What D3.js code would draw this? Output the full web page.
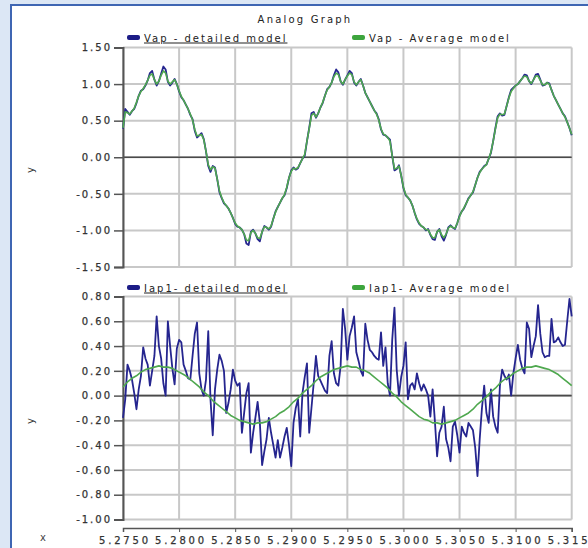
<!DOCTYPE html>
<html lang="en">
<head>
  <meta charset="UTF-8" />
  <title>Analog Graph</title>
  <script src="https://cdn.jsdelivr.net/npm/d3@7"></script>
  <style>
    html, body { margin: 0; padding: 0; background: #dce7f5; }
    svg { display: block; }
    text { font-family: "DejaVu Sans", Verdana, sans-serif; }
  </style>
</head>
<body>
  <script>
    // ----------------------------
    // Data
    // ----------------------------
    const xStart = 5.2750;
    const fineStep = 0.0002;   // sample spacing of the detailed traces
    const coarseStep = 0.0004; // sample spacing of the smooth Iap1 average

    const xTicks = [5.2750, 5.2800, 5.2850, 5.2900, 5.2950, 5.3000, 5.3050, 5.3100, 5.3150];
    const vapTicks = [-1.5, -1.0, -0.5, 0.0, 0.5, 1.0, 1.5];
    const iapTicks = [-1.0, -0.8, -0.6, -0.4, -0.2, 0.0, 0.2, 0.4, 0.6, 0.8];

    const vapNames = ["Vap - detailed model", "Vap - Average model"];
    const iapNames = ["Iap1- detailed model", "Iap1- Average model"];

    const vapDetailed = [
      0.39, 0.66, 0.62, 0.58, 0.63, 0.66, 0.74, 0.84, 0.91, 0.93,
      0.98, 1.05, 1.15, 1.18, 1.06, 0.98, 1.04, 1.14, 1.24, 1.20,
      1.03, 0.98, 1.02, 1.07, 1.00, 0.90, 0.82, 0.78, 0.72, 0.66,
      0.58, 0.52, 0.36, 0.27, 0.30, 0.33, 0.25, 0.08, -0.12, -0.20,
      -0.12, -0.14, -0.30, -0.48, -0.56, -0.63, -0.66, -0.70, -0.76, -0.83,
      -0.91, -0.95, -0.96, -0.99, -1.05, -1.18, -1.20, -1.02, -0.99, -1.04,
      -1.12, -1.15, -1.02, -0.94, -0.96, -0.99, -0.95, -0.84, -0.74, -0.68,
      -0.62, -0.56, -0.52, -0.42, -0.28, -0.18, -0.14, -0.17, -0.15, -0.08,
      -0.02, 0.02, 0.22, 0.40, 0.60, 0.62, 0.54, 0.60, 0.68, 0.74,
      0.84, 0.93, 0.96, 1.02, 1.12, 1.20, 1.16, 1.04, 0.99, 1.06,
      1.12, 1.18, 1.15, 1.02, 0.98, 1.03, 1.07, 0.98, 0.88, 0.82,
      0.76, 0.70, 0.64, 0.60, 0.52, 0.38, 0.31, 0.30, 0.27, 0.24,
      0.02, -0.18, -0.16, -0.11, -0.25, -0.42, -0.52, -0.55, -0.59, -0.66,
      -0.76, -0.85, -0.91, -0.94, -0.96, -1.00, -0.98, -1.06, -1.12, -1.13,
      -1.02, -0.98, -1.08, -1.14, -1.06, -0.96, -0.93, -0.96, -0.98, -0.90,
      -0.80, -0.74, -0.70, -0.63, -0.56, -0.52, -0.48, -0.38, -0.28, -0.20,
      -0.16, -0.12, -0.10, -0.02, 0.06, 0.22, 0.40, 0.56, 0.60, 0.57,
      0.58, 0.70, 0.82, 0.92, 0.95, 0.98, 1.00, 1.04, 1.08, 1.13,
      1.12, 1.04, 1.00, 1.06, 1.13, 1.14, 1.06, 0.98, 0.99, 1.02,
      1.01, 0.92, 0.84, 0.78, 0.72, 0.66, 0.60, 0.56, 0.48, 0.40,
      0.30
    ];

    const vapAverage = [
      0.40, 0.62, 0.61, 0.59, 0.63, 0.67, 0.75, 0.84, 0.90, 0.94,
      0.99, 1.05, 1.12, 1.14, 1.06, 1.00, 1.04, 1.12, 1.18, 1.15,
      1.04, 1.00, 1.03, 1.06, 1.00, 0.91, 0.83, 0.78, 0.72, 0.66,
      0.59, 0.51, 0.38, 0.29, 0.30, 0.31, 0.24, 0.08, -0.10, -0.17,
      -0.13, -0.15, -0.30, -0.46, -0.55, -0.62, -0.66, -0.70, -0.76, -0.83,
      -0.90, -0.94, -0.96, -0.99, -1.05, -1.13, -1.14, -1.03, -1.00, -1.04,
      -1.10, -1.11, -1.02, -0.95, -0.96, -0.98, -0.94, -0.84, -0.75, -0.68,
      -0.62, -0.56, -0.51, -0.41, -0.28, -0.19, -0.15, -0.16, -0.14, -0.08,
      -0.02, 0.04, 0.22, 0.39, 0.57, 0.60, 0.55, 0.60, 0.68, 0.75,
      0.84, 0.92, 0.96, 1.02, 1.10, 1.15, 1.13, 1.04, 1.00, 1.06,
      1.11, 1.15, 1.13, 1.03, 0.99, 1.03, 1.06, 0.98, 0.88, 0.82,
      0.76, 0.70, 0.64, 0.59, 0.51, 0.39, 0.32, 0.30, 0.27, 0.22,
      0.02, -0.16, -0.15, -0.12, -0.25, -0.41, -0.51, -0.55, -0.59, -0.66,
      -0.76, -0.84, -0.90, -0.94, -0.96, -0.99, -0.99, -1.05, -1.10, -1.10,
      -1.02, -0.99, -1.06, -1.10, -1.05, -0.97, -0.94, -0.96, -0.97, -0.90,
      -0.81, -0.74, -0.69, -0.63, -0.57, -0.52, -0.47, -0.38, -0.28, -0.21,
      -0.16, -0.13, -0.10, -0.02, 0.07, 0.22, 0.39, 0.54, 0.59, 0.58,
      0.59, 0.70, 0.81, 0.90, 0.94, 0.98, 1.00, 1.04, 1.08, 1.11,
      1.10, 1.04, 1.01, 1.06, 1.11, 1.11, 1.05, 0.99, 0.99, 1.02,
      1.00, 0.92, 0.84, 0.78, 0.72, 0.66, 0.60, 0.55, 0.48, 0.40,
      0.31
    ];

    const iapDetailed = [
      -0.18, -0.03, 0.25, 0.20, 0.13, 0.02, -0.11, 0.05, 0.16, 0.39,
      0.30, 0.25, 0.08, 0.20, 0.32, 0.64, 0.40, 0.30, 0.10, 0.00,
      0.60, 0.40, 0.22, 0.09, 0.38, 0.45, 0.43, 0.25, 0.20, 0.14,
      0.13, 0.32, 0.50, 0.59, 0.18, 0.05, 0.00, 0.13, 0.52, -0.03,
      -0.32, 0.05, 0.21, 0.33, 0.28, 0.20, -0.14, -0.06, 0.05, 0.21,
      0.12, 0.08, 0.10, -0.30, -0.14, 0.02, 0.10, -0.46, -0.30, -0.18,
      -0.05, -0.22, -0.56, -0.45, -0.35, -0.18, -0.30, -0.40, -0.50, -0.36,
      -0.50, -0.42, -0.33, -0.26, -0.40, -0.57, -0.22, -0.10, -0.03, -0.33,
      0.02, 0.15, 0.26, -0.30, -0.10, 0.10, 0.32, 0.16, 0.12, 0.08,
      0.04, 0.02, 0.32, 0.44, 0.18, 0.10, 0.08, 0.24, 0.70, 0.54,
      0.29, 0.48, 0.55, 0.64, 0.35, 0.28, 0.20, 0.16, 0.58, 0.45,
      0.37, 0.35, 0.32, 0.30, 0.29, 0.51, 0.24, 0.39, 0.10, 0.00,
      0.45, 0.71, 0.21, 0.00, 0.15, 0.24, 0.43, -0.03, 0.08, 0.10,
      0.05, 0.18, 0.10, 0.04, 0.09, 0.05, 0.00, -0.17, 0.05, -0.20,
      -0.49, -0.30, -0.25, -0.09, -0.35, -0.42, -0.53, -0.25, -0.21, -0.32,
      -0.46, -0.25, -0.30, -0.33, -0.22, -0.25, -0.28, -0.42, -0.65, -0.35,
      -0.10, 0.08, -0.14, -0.22, 0.05, -0.17, -0.25, -0.30, 0.08, 0.21,
      0.16, 0.13, 0.17, 0.00, 0.18, 0.30, 0.41, 0.29, 0.22, 0.18,
      0.59, 0.54, 0.31, 0.40, 0.48, 0.73, 0.50, 0.35, 0.31, 0.32,
      0.32, 0.62, 0.43, 0.44, 0.47, 0.43, 0.40, 0.41, 0.60, 0.78,
      0.64
    ];

    const iapAverage = [
      0.07, 0.11, 0.14, 0.16, 0.19, 0.21, 0.22, 0.23, 0.24, 0.23,
      0.23, 0.22, 0.20, 0.18, 0.16, 0.13, 0.10, 0.07, 0.03, 0.00,
      -0.04, -0.07, -0.10, -0.13, -0.16, -0.18, -0.20, -0.21, -0.22, -0.23,
      -0.22, -0.22, -0.21, -0.19, -0.17, -0.14, -0.12, -0.09, -0.05, -0.02,
      0.02, 0.05, 0.08, 0.12, 0.15, 0.17, 0.19, 0.21, 0.22, 0.23,
      0.24, 0.23, 0.23, 0.21, 0.20, 0.18, 0.15, 0.12, 0.09, 0.06,
      0.02, -0.01, -0.05, -0.08, -0.11, -0.14, -0.17, -0.19, -0.20, -0.22,
      -0.22, -0.23, -0.22, -0.21, -0.20, -0.18, -0.16, -0.14, -0.11, -0.07,
      -0.04, -0.01, 0.03, 0.06, 0.10, 0.13, 0.15, 0.18, 0.20, 0.22,
      0.23, 0.23, 0.24, 0.23, 0.22, 0.21, 0.19, 0.17, 0.14, 0.11,
      0.08
    ];

    // ----------------------------
    // Geometry
    // ----------------------------
    const width = 588, height = 548;
    const plotLeft = 123, plotRight = 571.7;

    const svg = d3.select("body").append("svg")
      .attr("width", width)
      .attr("height", height);

    // light blue page with a blue-framed white panel
    svg.append("rect").attr("width", width).attr("height", height).attr("fill", "#dce7f5");
    svg.append("rect")
      .attr("x", 11).attr("y", 5)
      .attr("width", width + 10).attr("height", height + 10)
      .attr("fill", "#ffffff")
      .attr("stroke", "#3f66b3")
      .attr("stroke-width", 2);

    const x = d3.scaleLinear().domain([5.275, 5.315]).range([plotLeft, plotRight]);
    const yTop = d3.scaleLinear().domain([-1.5, 1.5]).range([267, 47.5]);
    const yBot = d3.scaleLinear().domain([-1.0, 0.8]).range([519.5, 296.5]);

    const toPoints = (values, step) => values.map((v, i) => [xStart + i * step, v]);

    svg.append("text")
      .attr("x", 305).attr("y", 23)
      .attr("text-anchor", "middle")
      .attr("font-size", 10)
      .attr("letter-spacing", 2.2)
      .attr("fill", "#222")
      .text("Analog Graph");

    // ----------------------------
    // One panel: grid, axis, zero line, traces, legend
    // ----------------------------
    function drawPanel(y, ticks, detailed, average, avgStep, names, legendY, yLabelY) {
      const [y0, y1] = y.range();
      const g = svg.append("g");

      // vertical grid
      g.selectAll("line.vgrid").data(xTicks).join("line")
        .attr("x1", d => x(d)).attr("x2", d => x(d))
        .attr("y1", y1).attr("y2", y0)
        .attr("stroke", "#c8c8c8").attr("stroke-width", 2);

      // horizontal grid
      g.selectAll("line.hgrid").data(ticks).join("line")
        .attr("x1", plotLeft).attr("x2", plotRight)
        .attr("y1", d => y(d)).attr("y2", d => y(d))
        .attr("stroke", "#c8c8c8").attr("stroke-width", 2);

      // zero line
      g.append("line")
        .attr("x1", plotLeft).attr("x2", plotRight)
        .attr("y1", y(0)).attr("y2", y(0))
        .attr("stroke", "#4a4a4a").attr("stroke-width", 1.6);

      // left axis
      const axis = g.append("g")
        .attr("transform", `translate(${plotLeft},0)`)
        .call(d3.axisLeft(y).tickValues(ticks).tickFormat(d3.format(".2f")).tickSize(9).tickPadding(4));
      axis.select(".domain").attr("stroke", "#555").attr("stroke-width", 2);
      axis.selectAll(".tick line").attr("stroke", "#555").attr("stroke-width", 1.5);
      axis.selectAll(".tick text")
        .attr("font-family", "DejaVu Sans, sans-serif")
        .attr("font-size", 10)
        .attr("letter-spacing", 2)
        .attr("dx", 2)
        .attr("fill", "#333")
        .attr("stroke", "#333").attr("stroke-width", 0.25)
        .text(d => d3.format(".2f")(d).replace("−", "-"));

      const line = d3.line().x(d => x(d[0])).y(d => y(d[1]));

      g.append("path")
        .attr("d", line(toPoints(detailed, fineStep)))
        .attr("fill", "none")
        .attr("stroke", "#25258f")
        .attr("stroke-width", 1.8)
        .attr("stroke-linejoin", "round");

      g.append("path")
        .attr("d", line(toPoints(average, avgStep)))
        .attr("fill", "none")
        .attr("stroke", "#4fa84f")
        .attr("stroke-width", 1.6)
        .attr("stroke-linejoin", "round");

      // legend
      const legend = [
        { name: names[0], color: "#1c1c86", x: 127, underline: true },
        { name: names[1], color: "#3da53d", x: 352, underline: false }
      ];
      legend.forEach(l => {
        g.append("rect")
          .attr("x", l.x).attr("y", legendY - 3)
          .attr("width", 13).attr("height", 5).attr("rx", 2)
          .attr("fill", l.color);
        g.append("text")
          .attr("x", l.x + 17).attr("y", legendY + 3.5)
          .attr("font-size", 10)
          .attr("letter-spacing", 2)
          .attr("fill", "#222")
          .attr("text-decoration", l.underline ? "underline" : null)
          .text(l.name);
      });

      // rotated y label
      g.append("text")
        .attr("transform", `translate(34,${yLabelY}) rotate(-90)`)
        .attr("text-anchor", "middle")
        .attr("font-size", 10)
        .attr("fill", "#333")
        .text("y");
    }

    drawPanel(yTop, vapTicks, vapDetailed, vapAverage, fineStep, vapNames, 38, 170);
    drawPanel(yBot, iapTicks, iapDetailed, iapAverage, coarseStep, iapNames, 288, 421);

    // ----------------------------
    // Shared x axis under the lower panel
    // ----------------------------
    const xAxis = svg.append("g")
      .attr("transform", "translate(0,528)")
      .call(d3.axisBottom(x).tickValues(xTicks).tickFormat(d3.format(".4f")).tickSize(4).tickPadding(5));
    xAxis.select(".domain").attr("stroke", "#555").attr("stroke-width", 1.5);
    xAxis.selectAll(".tick line").attr("stroke", "#555");
    xAxis.selectAll(".tick text")
      .attr("font-family", "DejaVu Sans, sans-serif")
      .attr("font-size", 10)
      .attr("letter-spacing", 2.8)
      .attr("dx", 1.4)
      .attr("fill", "#333")
      .attr("stroke", "#333").attr("stroke-width", 0.25);

    svg.append("text")
      .attr("x", 43).attr("y", 541)
      .attr("text-anchor", "middle")
      .attr("font-size", 10)
      .attr("fill", "#444")
      .text("x");
  </script>
</body>
</html>
